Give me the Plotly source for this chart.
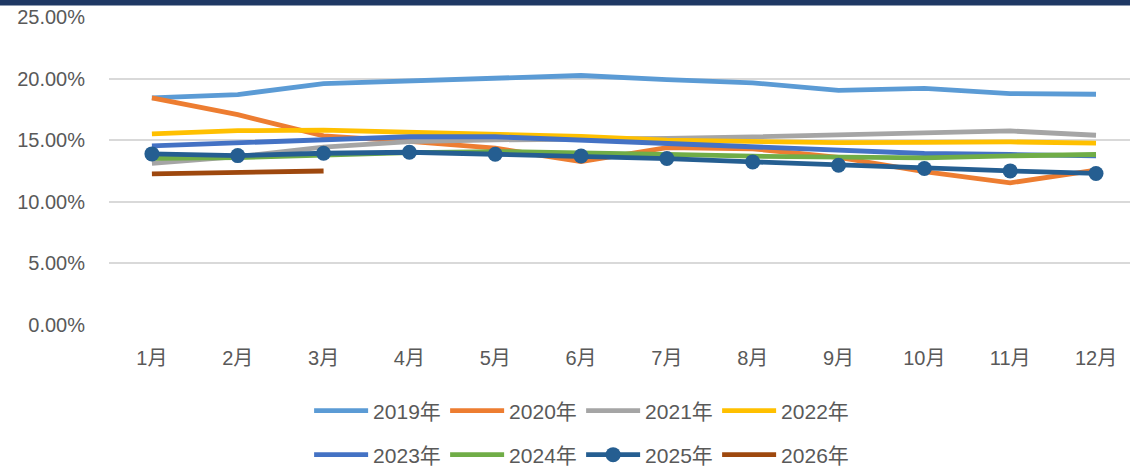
import plotly.graph_objects as go

months = ["1月", "2月", "3月", "4月", "5月", "6月", "7月", "8月", "9月", "10月", "11月", "12月"]

y2019 = [18.43, 18.70, 19.60, 19.82, 20.04, 20.25, 19.92, 19.65, 19.05, 19.20, 18.78, 18.73]
y2020 = [18.43, 17.07, 15.35, 14.90, 14.35, 13.26, 14.40, 14.30, 13.60, 12.45, 11.54, 12.57]
y2021 = [13.13, 13.67, 14.43, 14.89, 15.03, 15.05, 15.14, 15.27, 15.40, 15.60, 15.75, 15.40]
y2022 = [15.52, 15.77, 15.82, 15.63, 15.52, 15.30, 15.00, 14.90, 14.80, 14.83, 14.86, 14.76]
y2023 = [14.54, 14.76, 15.03, 15.28, 15.28, 15.00, 14.70, 14.50, 14.20, 13.92, 13.84, 13.73]
y2024 = [13.53, 13.58, 13.80, 13.99, 14.08, 14.00, 13.85, 13.70, 13.62, 13.57, 13.73, 13.84]
y2025 = [13.89, 13.75, 13.94, 14.02, 13.86, 13.72, 13.51, 13.24, 12.97, 12.70, 12.51, 12.30]
y2026 = [12.26, 12.36, 12.50]

series = [
    ("2019年", y2019, "#5B9BD5", False, "legend"),
    ("2020年", y2020, "#ED7D31", False, "legend"),
    ("2021年", y2021, "#A5A5A5", False, "legend"),
    ("2022年", y2022, "#FFC000", False, "legend"),
    ("2023年", y2023, "#4472C4", False, "legend2"),
    ("2024年", y2024, "#70AD47", False, "legend2"),
    ("2025年", y2025, "#255E91", True, "legend2"),
    ("2026年", y2026, "#9E480E", False, "legend2"),
]

FONT = "Liberation Sans, Noto Sans CJK SC, sans-serif"
TXT = "#595959"

fig = go.Figure()
for name, vals, color, markers, leg in series:
    fig.add_trace(go.Scatter(
        x=months[:len(vals)],
        y=[v / 100 for v in vals],
        name=name,
        mode="lines+markers" if markers else "lines",
        line=dict(color=color, width=4.8),
        marker=dict(size=15, color=color) if markers else None,
        legend=leg,
    ))

leg_common = dict(orientation="h", xanchor="left", yanchor="middle",
                  entrywidth=67, itemwidth=54,
                  font=dict(family=FONT, size=21, color=TXT),
                  bgcolor="rgba(0,0,0,0)")

fig.update_layout(
    width=1130, height=466,
    margin=dict(l=109, r=0, t=17, b=141, autoexpand=False),
    paper_bgcolor="white", plot_bgcolor="white",
    font=dict(family=FONT, size=20, color=TXT),
    xaxis=dict(
        type="category", categoryorder="array", categoryarray=months,
        range=[-0.5, 11.396], showgrid=False, zeroline=False, showline=False,
        ticks="", ticklabelstandoff=19,
        tickfont=dict(family=FONT, size=20, color=TXT),
    ),
    yaxis=dict(
        range=[0, 0.25], tickvals=[0, 0.05, 0.10, 0.15, 0.20, 0.25],
        tickformat=".2%", showgrid=True, gridcolor="#D9D9D9", gridwidth=1.5,
        zeroline=False, showline=False, ticks="", ticklabelstandoff=23,
        tickfont=dict(family=FONT, size=20, color=TXT),
    ),
    legend=dict(x=0.196, y=-0.279, **leg_common),
    legend2=dict(x=0.196, y=-0.422, **leg_common),
    showlegend=True,
    shapes=[dict(type="rect", xref="paper", yref="paper",
                 x0=-109 / 1021, x1=1.0, y0=1 + (17 - 5.5) / 308, y1=1 + 20 / 308,
                 fillcolor="#1F3864", line=dict(width=0), layer="above")],
)

fig.write_html("out.html", config={"displayModeBar": False},
               post_script="document.body.style.margin='0';")
